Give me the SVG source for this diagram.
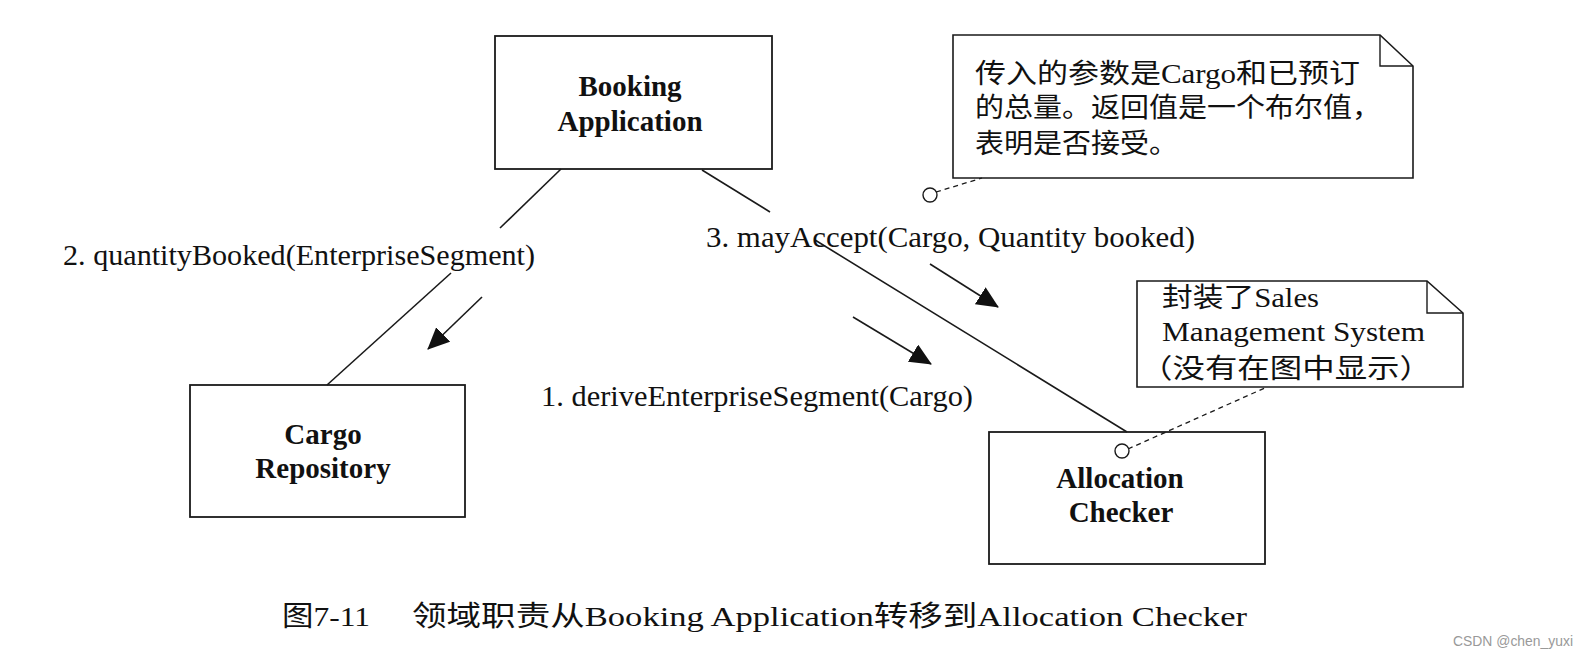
<svg xmlns="http://www.w3.org/2000/svg" width="1586" height="656" viewBox="0 0 1586 656">
<style>
.box{fill:#fff;stroke:#1a1a1a;stroke-width:1.8}
.note{fill:#fff;stroke:#1a1a1a;stroke-width:1.6}
.fold{fill:none;stroke:#1a1a1a;stroke-width:1.4}
.link{fill:none;stroke:#1a1a1a;stroke-width:1.6}
.dash{fill:none;stroke:#1a1a1a;stroke-width:1.3;stroke-dasharray:5 4}
.circ{fill:#fff;stroke:#1a1a1a;stroke-width:1.4}
.arr{fill:none;stroke:#1a1a1a;stroke-width:1.6}
.name{font-family:"Liberation Serif","Noto Sans CJK SC",serif;font-weight:bold;font-size:29px;fill:#111;text-anchor:middle}
.lbl{font-family:"Liberation Serif","Noto Sans CJK SC",serif;font-size:29px;fill:#111}
.nt{font-family:"Liberation Serif","Noto Sans CJK SC",serif;font-size:27px;fill:#111}
.cap{font-family:"Liberation Serif","Noto Sans CJK SC",serif;font-size:28px;fill:#111}
.wm{font-family:"Liberation Sans",sans-serif;font-size:14px;fill:#999}
</style>
<defs>
<marker id="ah" viewBox="0 0 22 20" refX="21" refY="10" markerWidth="22" markerHeight="20" markerUnits="userSpaceOnUse" orient="auto">
<path d="M0,0 L22,10 L0,20 Z" fill="#111"/>
</marker>
</defs>

<g id="booking-application">
<rect class="box" x="495" y="36" width="277" height="133"/>
<text class="name" x="630" y="96">Booking</text>
<text class="name" x="630" y="131">Application</text>
</g>

<g id="cargo-repository">
<rect class="box" x="190" y="385" width="275" height="132"/>
<text class="name" x="323" y="444">Cargo</text>
<text class="name" x="323" y="478">Repository</text>
</g>

<g id="allocation-checker">
<rect class="box" x="989" y="432" width="276" height="132"/>
<text class="name" x="1120" y="488">Allocation</text>
<text class="name" x="1121" y="522">Checker</text>
</g>

<g id="note-mayaccept">
<path class="note" d="M953,35 H1380 L1413,66 V178 H953 Z"/>
<path class="fold" d="M1380,35 V66 H1413"/>
<text class="nt" x="975" y="83" textLength="385" lengthAdjust="spacingAndGlyphs">传入的参数是Cargo和已预订</text>
<text class="nt" x="975" y="117" textLength="406" lengthAdjust="spacingAndGlyphs">的总量。返回值是一个布尔值，</text>
<text class="nt" x="975" y="153" textLength="203" lengthAdjust="spacingAndGlyphs">表明是否接受。</text>
</g>

<g id="note-sales">
<path class="note" d="M1137,281 H1427 L1463,313 V387 H1137 Z"/>
<path class="fold" d="M1427,281 V313 H1463"/>
<text class="nt" x="1162" y="307" textLength="157" lengthAdjust="spacingAndGlyphs">封装了Sales</text>
<text class="nt" x="1162" y="341" textLength="263" lengthAdjust="spacingAndGlyphs">Management System</text>
<text class="nt" x="1140" y="378" textLength="292" lengthAdjust="spacingAndGlyphs">（没有在图中显示）</text>
</g>

<g id="connectors">
<path class="link" d="M561,169 L500,228"/>
<path class="link" d="M451,273 L327,385"/>
<path class="link" d="M702,170 L770,212"/>
<path class="link" d="M815,240 L1127,432"/>
<path class="arr" d="M482,297 L428,349" marker-end="url(#ah)"/>
<path class="arr" d="M853,317 L931,364" marker-end="url(#ah)"/>
<path class="arr" d="M930,264 L998,307" marker-end="url(#ah)"/>
<path class="dash" d="M936,192 L982,178"/>
<path class="dash" d="M1128,449 L1267,387"/>
<circle class="circ" cx="930" cy="195" r="7"/>
<circle class="circ" cx="1122" cy="451" r="7"/>
</g>

<g id="label-quantityBooked">
<text class="lbl" x="63" y="265" textLength="472" lengthAdjust="spacingAndGlyphs">2. quantityBooked(EnterpriseSegment)</text>
</g>
<g id="label-mayAccept">
<text class="lbl" x="706" y="247" textLength="489" lengthAdjust="spacingAndGlyphs">3. mayAccept(Cargo, Quantity booked)</text>
</g>
<g id="label-derive">
<text class="lbl" x="541" y="406" textLength="432" lengthAdjust="spacingAndGlyphs">1. deriveEnterpriseSegment(Cargo)</text>
</g>

<g id="caption">
<text class="cap" x="282" y="626" textLength="88" lengthAdjust="spacingAndGlyphs">图7-11</text>
<text class="cap" x="412" y="626" textLength="835" lengthAdjust="spacingAndGlyphs">领域职责从Booking Application转移到Allocation Checker</text>
</g>

<g id="watermark">
<text class="wm" x="1453" y="646" textLength="120" lengthAdjust="spacingAndGlyphs">CSDN @chen_yuxi</text>
</g>
</svg>
